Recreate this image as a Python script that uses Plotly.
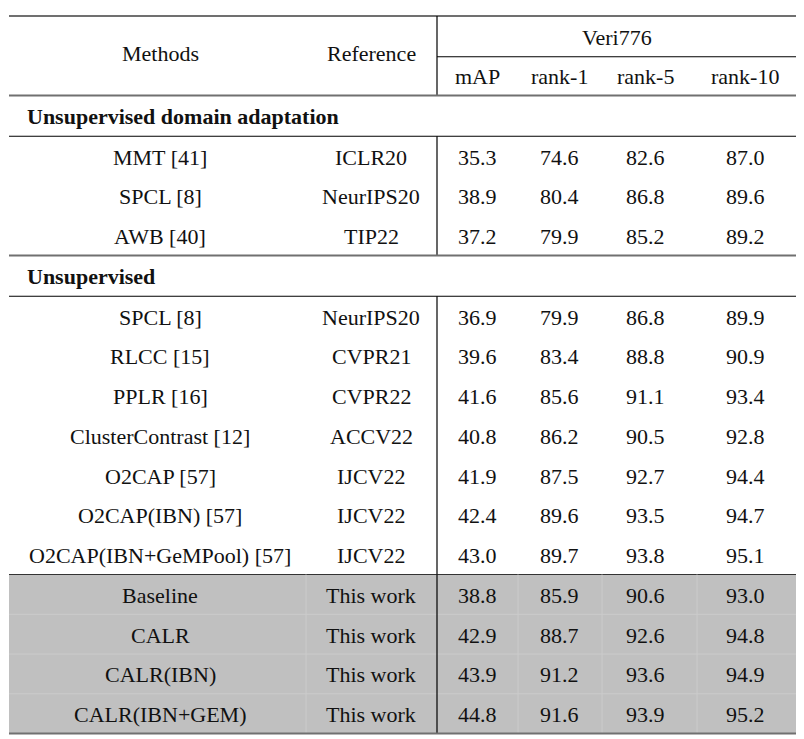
import plotly.graph_objects as go

# ---------------- data ----------------
col_headers = ["mAP", "rank-1", "rank-5", "rank-10"]
dataset_name = "Veri776"

uda_title = "Unsupervised domain adaptation"
uda_methods = ["MMT [41]", "SPCL [8]", "AWB [40]"]
uda_refs = ["ICLR20", "NeurIPS20", "TIP22"]
uda_map = [35.3, 38.9, 37.2]
uda_r1 = [74.6, 80.4, 79.9]
uda_r5 = [82.6, 86.8, 85.2]
uda_r10 = [87.0, 89.6, 89.2]

us_title = "Unsupervised"
us_methods = ["SPCL [8]", "RLCC [15]", "PPLR [16]", "ClusterContrast [12]",
              "O2CAP [57]", "O2CAP(IBN) [57]", "O2CAP(IBN+GeMPool) [57]"]
us_refs = ["NeurIPS20", "CVPR21", "CVPR22", "ACCV22", "IJCV22", "IJCV22", "IJCV22"]
us_map = [36.9, 39.6, 41.6, 40.8, 41.9, 42.4, 43.0]
us_r1 = [79.9, 83.4, 85.6, 86.2, 87.5, 89.6, 89.7]
us_r5 = [86.8, 88.8, 91.1, 90.5, 92.7, 93.5, 93.8]
us_r10 = [89.9, 90.9, 93.4, 92.8, 94.4, 94.7, 95.1]

our_methods = ["Baseline", "CALR", "CALR(IBN)", "CALR(IBN+GEM)"]
our_refs = ["This work", "This work", "This work", "This work"]
our_map = [38.8, 42.9, 43.9, 44.8]
our_r1 = [85.9, 88.7, 91.2, 91.6]
our_r5 = [90.6, 92.6, 93.6, 93.9]
our_r10 = [93.0, 94.8, 94.9, 95.2]

# ---------------- layout ----------------
W, H = 804, 739
OFF = 8  # page body margin
X0, X1 = 9, 797
TOP = 16
RH = 39.75
VX = 437
col_x = [160, 371, 477, 559, 645, 745]
FONT = "Liberation Serif"
FS = 22
TXT = "#111111"
THICK = "#707070"

fig = go.Figure()
shapes = []
ann = []

def hline(y, color="#000000", w=1.2, x0=X0, x1=X1):
    shapes.append(dict(type="line", x0=x0, x1=x1, y0=y, y1=y, xref="x", yref="y",
                       line=dict(color=color, width=w), layer="above"))

def vline(x, y0, y1, color="#000000", w=1.2):
    shapes.append(dict(type="line", x0=x, x1=x, y0=y0, y1=y1, xref="x", yref="y",
                       line=dict(color=color, width=w), layer="above"))

def text(x, y, s, anchor="center", bold=False):
    ann.append(dict(x=x, y=y, xref="x", yref="y", text=f"<b>{s}</b>" if bold else s,
                    showarrow=False, xanchor=anchor, yanchor="middle",
                    font=dict(family=FONT, size=FS, color=TXT)))

y = TOP
# header
hline(y, THICK, 2.2)
text(col_x[0], y + RH - 2, "Methods")
text(col_x[1], y + RH - 2, "Reference")
text((VX + X1) / 2, y + RH / 2 + 2, dataset_name)
hline(y + RH + 1, "#000000", 1.2, VX, X1)
for cx, h in zip(col_x[2:], col_headers):
    text(cx, y + RH * 1.5 + 1, h)
vline(VX, y, y + 2 * RH)
y += 2 * RH
hline(y, THICK, 2.2)

def section(y, title, methods, refs, m, r1, r5, r10, gray=False):
    if title:
        text(25, y + RH / 2 + 1, title, anchor="left", bold=True)
        y += RH + 1
        hline(y)
    n = len(methods)
    if gray:
        shapes.append(dict(type="rect", x0=X0, x1=X1, y0=y, y1=y + n * RH, xref="x", yref="y",
                           fillcolor="#c0c0c0", line=dict(width=0), layer="below"))
        for k in range(1, n):
            hline(y + k * RH, "#cbcbcb", 1)
        for gx in [306, 518, 602, 697]:
            vline(gx, y, y + n * RH, "#cbcbcb", 1)
    vline(VX, y, y + n * RH)
    for i in range(n):
        cy = y + RH * (i + 0.5) + 1
        vals = [methods[i], refs[i], f"{m[i]:.1f}", f"{r1[i]:.1f}", f"{r5[i]:.1f}", f"{r10[i]:.1f}"]
        for cx, v in zip(col_x, vals):
            text(cx, cy, v)
    return y + n * RH

y = section(y, uda_title, uda_methods, uda_refs, uda_map, uda_r1, uda_r5, uda_r10)
hline(y, THICK, 2.2)
y = section(y, us_title, us_methods, us_refs, us_map, us_r1, us_r5, us_r10)
hline(y, "#333333", 1.2)
y = section(y, None, our_methods, our_refs, our_map, our_r1, our_r5, our_r10, gray=True)
hline(y, THICK, 2.2)

fig.update_layout(
    width=W, height=H, autosize=False,
    margin=dict(l=0, r=0, t=0, b=0),
    paper_bgcolor="white", plot_bgcolor="white",
    shapes=shapes, annotations=ann, showlegend=False,
    xaxis=dict(range=[OFF, W + OFF], visible=False, fixedrange=True),
    yaxis=dict(range=[H + OFF, OFF], visible=False, fixedrange=True),
)
fig.write_html("out.html")
